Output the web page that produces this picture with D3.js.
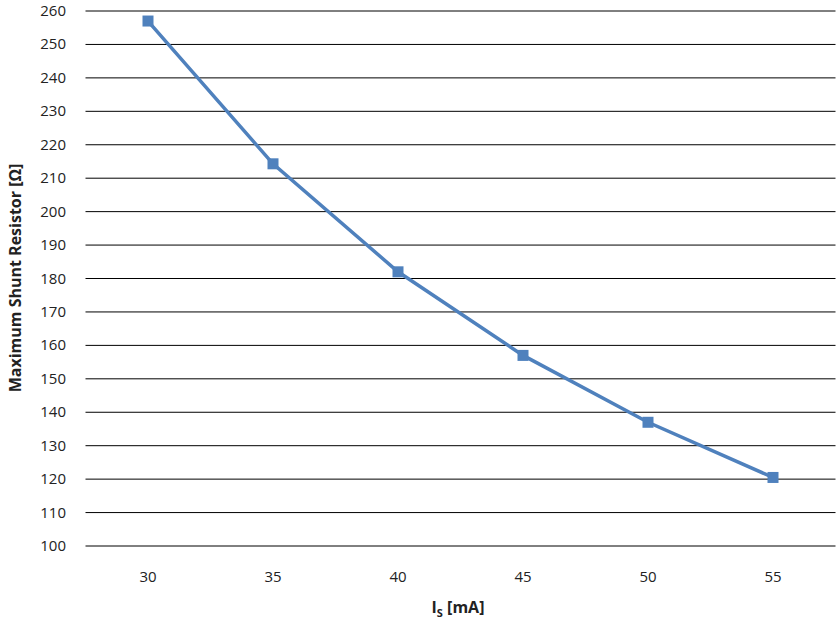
<!DOCTYPE html>
<html><head><meta charset="utf-8">
<script src="https://cdn.jsdelivr.net/npm/d3@7"></script>
<style>body{margin:0;background:#fff}text{font-family:"Open Sans",sans-serif}</style>
</head><body><svg id="c" width="837" height="623"></svg>
<script>
const categories=["30","35","40","45","50","55"];
const values=[257,214.3,182,157,137,120.5];
const yTicks=[100,110,120,130,140,150,160,170,180,190,200,210,220,230,240,250,260];
const svg=d3.select("#c");
const x=d3.scaleBand().domain(categories).range([85.5,835.5]);
const y=d3.scaleLinear().domain([100,260]).range([546,11]);
const g=svg.append("g");
g.selectAll("line.g").data(yTicks).join("line").attr("x1",85.5).attr("x2",835.5)
 .attr("y1",d=>y(d)).attr("y2",d=>y(d)).attr("stroke","#000").attr("stroke-width",1);
g.selectAll("text.y").data(yTicks).join("text").attr("x",66).attr("y",d=>y(d)+5)
 .attr("text-anchor","end").attr("font-size",15).attr("fill","#222").text(d=>d);
g.selectAll("text.x").data(categories).join("text").attr("x",d=>x(d)+x.bandwidth()/2).attr("y",582)
 .attr("text-anchor","middle").attr("font-size",15).attr("fill","#222").text(d=>d);
const pts=categories.map((c,i)=>[x(c)+x.bandwidth()/2,y(values[i])]);
g.append("path").attr("d",d3.line()(pts)).attr("fill","none").attr("stroke","#4f81bd").attr("stroke-width",3.5);
g.selectAll("rect.m").data(pts).join("rect").attr("x",d=>d[0]-5.5).attr("y",d=>d[1]-5.5)
 .attr("width",11).attr("height",11).attr("fill","#4f81bd");
const xl=svg.append("text").attr("x",458).attr("y",613).attr("text-anchor","middle")
 .attr("font-size",16).attr("font-weight","bold").attr("fill","#222");
xl.append("tspan").text("I");
xl.append("tspan").attr("font-size",11).attr("dy",4).text("S");
xl.append("tspan").attr("dy",-4).text(" [mA]");
svg.append("text").attr("transform","translate(21,278) rotate(-90)").attr("text-anchor","middle")
 .attr("font-size",16).attr("font-weight","bold").attr("fill","#222").text("Maximum Shunt Resistor [Ω]");
</script></body></html>
